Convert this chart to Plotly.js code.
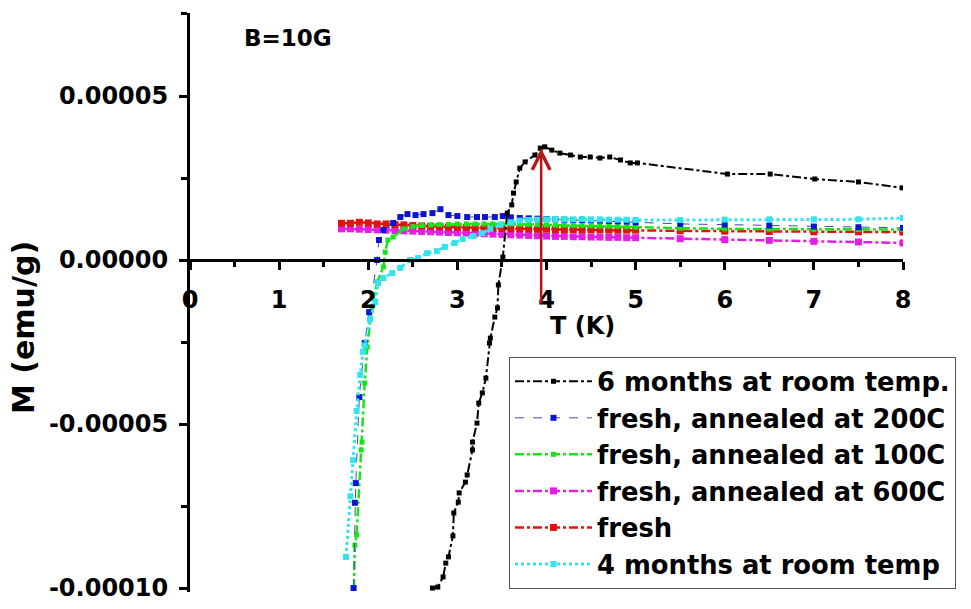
<!DOCTYPE html>
<html>
<head>
<meta charset="utf-8">
<script src="https://cdn.plot.ly/plotly-3.0.1.min.js"></script>
<style>html,body{margin:0;padding:0;background:#fff;}#chart{width:971px;height:609px;}</style>
</head>
<body>
<div id="chart"></div>
<script>
// ---- data (T in K, M in emu/g) ----
const seriesNames = ["6 months at room temp.", "fresh, annealed at 200C", "fresh, annealed at 100C", "fresh, annealed at 600C", "fresh", "4 months at room temp"];

const m6_T = [2.72,2.78,2.84,2.87,2.90,2.95,2.96,3.01,3.02,3.09,3.11,3.17,3.17,3.22,3.24,3.28,3.32,3.36,3.37,3.42,3.45,3.46,3.51,3.56,3.61,3.63,3.66,3.70,3.76,3.87,3.93,3.98,4.06,4.15,4.27,4.38,4.49,4.60,4.71,4.83,4.94,5.02,6.03,6.51,7.01,7.50,7.99];
const m6_M = [-10.0e-5,-9.97e-5,-9.66e-5,-9.24e-5,-9.05e-5,-8.41e-5,-7.71e-5,-7.38e-5,-7.10e-5,-6.77e-5,-6.55e-5,-5.79e-5,-5.55e-5,-4.97e-5,-4.36e-5,-4.05e-5,-3.60e-5,-2.53e-5,-2.38e-5,-1.74e-5,-1.46e-5,-0.76e-5,0.09e-5,1.43e-5,1.68e-5,2.04e-5,2.38e-5,2.80e-5,2.99e-5,3.20e-5,3.41e-5,3.45e-5,3.35e-5,3.26e-5,3.20e-5,3.14e-5,3.14e-5,3.11e-5,3.14e-5,3.05e-5,2.96e-5,2.96e-5,2.62e-5,2.62e-5,2.47e-5,2.38e-5,2.20e-5];

const a200_T = [1.835,1.85,1.86,1.90,1.96,2.01,2.10,2.12,2.17,2.28,2.36,2.44,2.53,2.62,2.72,2.81,2.90,3.00,3.11,3.22,3.31,3.42,3.51,3.6,3.7,3.8,3.9,4.0,4.1,4.2,4.3,4.4,4.5,4.6,4.7,4.8,4.9,5.0,5.5,6.0,6.5,7.0,7.5,8.0];
const a200_M = [-10.0e-5,-7.4e-5,-6.8e-5,-4.18e-5,-2.53e-5,-1.59e-5,0.0,0.61e-5,0.91e-5,1.13e-5,1.31e-5,1.40e-5,1.37e-5,1.40e-5,1.43e-5,1.55e-5,1.37e-5,1.34e-5,1.31e-5,1.31e-5,1.31e-5,1.31e-5,1.34e-5,1.30e-5,1.28e-5,1.27e-5,1.26e-5,1.25e-5,1.24e-5,1.23e-5,1.22e-5,1.22e-5,1.21e-5,1.20e-5,1.19e-5,1.18e-5,1.17e-5,1.15e-5,1.10e-5,1.08e-5,1.05e-5,1.02e-5,1.00e-5,0.98e-5];

const a100_T = [1.84,1.85,1.87,1.92,1.93,1.96,1.99,2.04,2.10,2.17,2.19,2.22,2.28,2.4,2.5,2.6,2.7,2.8,2.9,3.0,3.1,3.2,3.3,3.4,3.5,3.6,3.7,3.8,3.9,4.0,4.1,4.2,4.3,4.4,4.5,4.6,4.7,4.8,4.9,5.0,5.5,6.0,6.5,7.0,7.5,8.0];
const a100_M = [-10.0e-5,-8.69e-5,-8.38e-5,-5.79e-5,-5.55e-5,-3.75e-5,-2.65e-5,-1.43e-5,-0.67e-5,-0.21e-5,0.24e-5,0.61e-5,0.70e-5,0.95e-5,1.02e-5,1.05e-5,1.07e-5,1.08e-5,1.09e-5,1.10e-5,1.10e-5,1.10e-5,1.10e-5,1.10e-5,1.10e-5,1.10e-5,1.09e-5,1.08e-5,1.08e-5,1.07e-5,1.06e-5,1.06e-5,1.05e-5,1.05e-5,1.04e-5,1.03e-5,1.03e-5,1.02e-5,1.01e-5,1.00e-5,0.97e-5,0.95e-5,0.94e-5,0.93e-5,0.93e-5,0.93e-5];

const flat_T = [1.7,1.8,1.9,2.0,2.1,2.2,2.3,2.4,2.5,2.6,2.7,2.8,2.9,3.0,3.1,3.2,3.3,3.4,3.5,3.6,3.7,3.8,3.9,4.0,4.1,4.2,4.3,4.4,4.5,4.6,4.7,4.8,4.9,5.0,5.5,6.0,6.5,7.0,7.5,8.0];
const a600_M = [0.95e-5,0.95e-5,0.94e-5,0.93e-5,0.92e-5,0.91e-5,0.90e-5,0.89e-5,0.88e-5,0.87e-5,0.86e-5,0.85e-5,0.84e-5,0.83e-5,0.82e-5,0.81e-5,0.80e-5,0.79e-5,0.78e-5,0.77e-5,0.76e-5,0.75e-5,0.74e-5,0.73e-5,0.72e-5,0.72e-5,0.71e-5,0.71e-5,0.70e-5,0.70e-5,0.69e-5,0.69e-5,0.68e-5,0.68e-5,0.65e-5,0.62e-5,0.60e-5,0.57e-5,0.55e-5,0.52e-5];
const fresh_M = [1.12e-5,1.12e-5,1.15e-5,1.13e-5,1.10e-5,1.10e-5,1.08e-5,1.07e-5,1.05e-5,1.04e-5,1.03e-5,1.02e-5,1.00e-5,1.00e-5,0.99e-5,0.98e-5,0.97e-5,0.97e-5,0.96e-5,0.95e-5,0.95e-5,0.95e-5,0.94e-5,0.94e-5,0.93e-5,0.93e-5,0.93e-5,0.92e-5,0.92e-5,0.92e-5,0.91e-5,0.91e-5,0.91e-5,0.91e-5,0.89e-5,0.88e-5,0.87e-5,0.86e-5,0.86e-5,0.85e-5];

const m4_T = [1.75,1.80,1.83,1.87,1.91,1.94,1.96,2.02,2.08,2.11,2.17,2.27,2.36,2.47,2.56,2.66,2.77,2.86,2.97,3.06,3.18,3.28,3.37,3.48,3.6,3.7,3.8,3.9,4.0,4.1,4.2,4.3,4.4,4.5,4.6,4.7,4.8,4.9,5.0,5.5,6.0,6.5,7.0,7.5,8.0];
const m4_M = [-9.05e-5,-7.2e-5,-6.1e-5,-4.6e-5,-3.5e-5,-2.8e-5,-2.6e-5,-1.8e-5,-1.28e-5,-0.70e-5,-0.55e-5,-0.40e-5,-0.24e-5,0.0,0.06e-5,0.21e-5,0.27e-5,0.40e-5,0.52e-5,0.64e-5,0.73e-5,0.82e-5,0.95e-5,1.07e-5,1.15e-5,1.20e-5,1.22e-5,1.23e-5,1.24e-5,1.25e-5,1.25e-5,1.24e-5,1.25e-5,1.24e-5,1.24e-5,1.23e-5,1.23e-5,1.23e-5,1.22e-5,1.22e-5,1.23e-5,1.24e-5,1.24e-5,1.24e-5,1.28e-5];

const yTickVals = [-0.0001, -0.00005, 0, 0.00005];
const yTickText = ["-0.00010", "-0.00005", "0.00000", "0.00005"];
const xTickVals = [0,1,2,3,4,5,6,7,8];
const fieldLabel = "B=10G";
const xTitle = "T (K)";
const yTitle = "M (emu/g)";
const arrowT = 3.94, arrowFrom = -1.37e-5, arrowTo = 3.41e-5;

// ---- styling ----
const FONT = "DejaVu Sans, Arial, sans-serif";
const W = 971, H = 609;
const M = {l: 190, r: 68, t: 13, b: 17};
const PW = W - M.l - M.r, PH = H - M.t - M.b;
const xRange = [0, 8];
const yRange = [-1.012e-4, 7.53e-5];
const xAxisPos = (0 - yRange[0]) / (yRange[1] - yRange[0]);
const px = v => (v - M.l) / PW;          // container px -> paper x
const py = v => 1 - (v - M.t) / PH;      // container px -> paper y

function tr(x, y, name, color, lineColor, lw, dash, msize, rank) {
  return {
    x: x, y: y, name: name, type: "scatter", mode: "lines+markers",
    line: {color: lineColor, width: lw, dash: dash},
    marker: {symbol: "square", size: msize, color: color},
    legendrank: rank
  };
}

const data = [
  tr(flat_T, a600_M, seriesNames[3], "#e51ee5", "#e51ee5", 2.5, "dashdot", 7, 4),
  tr(flat_T, fresh_M, seriesNames[4], "#e0140f", "#e0140f", 2.5, "dashdot", 7, 5),
  tr(a100_T, a100_M, seriesNames[2], "#1be31b", "#1be31b", 2.5, "dashdot", 5, 3),
  tr(a200_T, a200_M, seriesNames[1], "#0a14d2", "#4b4ba8", 1, "dash", 6, 2),
  tr(m4_T, m4_M, seriesNames[5], "#33e3ee", "#33e3ee", 3, "dot", 6, 6),
  tr(m6_T, m6_M, seriesNames[0], "#000000", "#000000", 2, "dashdot", 5, 1)
];

const bold = (s) => ({family: FONT, size: s, color: "#000", weight: "bold"});

const layout = {
  width: W, height: H,
  margin: {l: M.l, r: M.r, t: M.t, b: M.b, pad: 0, autoexpand: false},
  paper_bgcolor: "#fff", plot_bgcolor: "#fff",
  font: bold(24),
  showlegend: true,
  xaxis: {
    range: xRange, anchor: "free", position: xAxisPos,
    tickmode: "array", tickvals: xTickVals,
    showline: true, linewidth: 3, linecolor: "#000",
    ticks: "outside", ticklen: 8, tickwidth: 3, tickcolor: "#000",
    ticklabelstandoff: 9,
    minor: {tickmode: "linear", tick0: 0, dtick: 0.5, ticks: "outside", ticklen: 5, tickwidth: 3, tickcolor: "#000"},
    showgrid: false, zeroline: false,
    tickfont: bold(24)
  },
  yaxis: {
    range: yRange, tickmode: "array", tickvals: yTickVals, ticktext: yTickText,
    showline: true, linewidth: 3, linecolor: "#000",
    ticks: "outside", ticklen: 8, tickwidth: 3, tickcolor: "#000",
    ticklabelstandoff: 6,
    minor: {tickmode: "linear", tick0: 0, dtick: 0.000025, ticks: "outside", ticklen: 6, tickwidth: 3, tickcolor: "#000"},
    showgrid: false, zeroline: false,
    tickfont: bold(24)
  },
  legend: {
    xref: "paper", yref: "paper",
    x: px(509), y: py(357), xanchor: "left", yanchor: "top",
    bgcolor: "#fff", bordercolor: "#555", borderwidth: 1,
    font: bold(25.8),
    itemwidth: 77, tracegroupgap: 0
  },
  annotations: [
    {xref: "paper", yref: "paper", x: px(288), y: py(38), text: fieldLabel, showarrow: false,
     font: bold(23), xanchor: "center", yanchor: "middle"},
    {xref: "paper", yref: "paper", x: px(582), y: py(326), text: xTitle, showarrow: false,
     font: bold(24), xanchor: "center", yanchor: "middle"},
    {xref: "paper", yref: "paper", x: px(23), y: py(328), text: yTitle, textangle: -90, showarrow: false,
     font: bold(30), xanchor: "center", yanchor: "middle"},
    {xref: "x", yref: "y", axref: "x", ayref: "y", x: arrowT, y: arrowTo, ax: arrowT, ay: arrowFrom,
     text: "", showarrow: true, arrowhead: 5, arrowsize: 1.4, arrowwidth: 2.5, arrowcolor: "#b3161b", standoff: 0}
  ]
};

Plotly.newPlot("chart", data, layout, {displayModeBar: false, staticPlot: true});
</script>
</body>
</html>
